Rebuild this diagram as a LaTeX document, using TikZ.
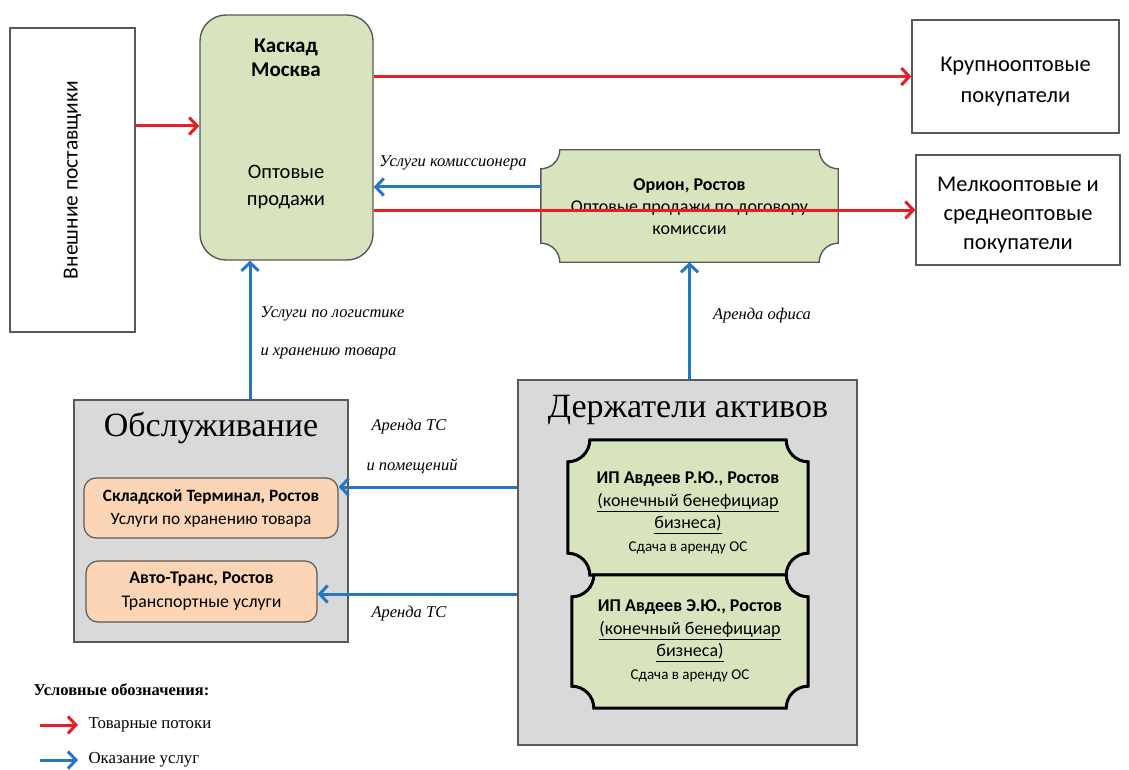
\documentclass[tikz,border=0pt]{standalone}
\usepackage{fontspec}
\setmainfont{Liberation Serif}
\newfontfamily\calf{Carlito}
\usetikzlibrary{arrows.meta,calc}
\definecolor{myred}{RGB}{232,30,37}
\definecolor{myblue}{RGB}{38,118,196}
\definecolor{mygreen}{RGB}{215,228,189}
\definecolor{mygray}{RGB}{217,217,217}
\definecolor{myorange}{RGB}{251,213,181}
\definecolor{edgegray}{RGB}{89,89,89}
% plaque outline (concave corners) around node #1, radius #2, style #3
\newcommand\plaqueoutline[3]{%
  \pgfmathsetmacro\kk{0.552*#2}%
  \draw[#3]
    ($(#1.north west)+(#2pt,0pt)$) -- ($(#1.north east)+(-#2pt,0pt)$)
    .. controls +(0pt,-\kk pt) and +(-\kk pt,0pt) .. ($(#1.north east)+(0pt,-#2pt)$)
    -- ($(#1.south east)+(0pt,#2pt)$)
    .. controls +(-\kk pt,0pt) and +(0pt,\kk pt) .. ($(#1.south east)+(-#2pt,0pt)$)
    -- ($(#1.south west)+(#2pt,0pt)$)
    .. controls +(0pt,\kk pt) and +(\kk pt,0pt) .. ($(#1.south west)+(0pt,#2pt)$)
    -- ($(#1.north west)+(0pt,-#2pt)$)
    .. controls +(\kk pt,0pt) and +(0pt,-\kk pt) .. cycle;}
\tikzset{
  flow/.style={draw=myred, line width=3pt, -{Straight Barb[length=8pt,width=17pt]}},
  serv/.style={draw=myblue, line width=3pt, -{Straight Barb[length=8pt,width=17pt]}},
  whitebox/.style={draw=edgegray, line width=1.2pt, fill=white, inner sep=0pt},
  greenround/.style={draw=edgegray, line width=1.4pt, fill=mygreen, rounded corners=26pt, inner sep=0pt},
  graybox/.style={draw=edgegray, line width=1.2pt, fill=mygray, inner sep=0pt},
  orangebox/.style={draw=edgegray, line width=1.2pt, fill=myorange, rounded corners=12pt, inner sep=0pt, align=center},
  plaquenode/.style={inner sep=0pt, align=center},
  lbl/.style={font=\itshape\fontsize{16.5}{18}\selectfont},
  title/.style={font=\fontsize{34}{38}\selectfont},
}
\begin{document}
\begin{tikzpicture}[x=1pt,y=-1pt]
\useasboundingbox[fill=white] (0,0) rectangle (1129,770);

% helper coordinates
\coordinate (c126) at (0,126);
\coordinate (c187) at (0,187);
\coordinate (c487) at (0,487);
\coordinate (c594) at (0,594);
\coordinate (x250) at (250,0);

% external suppliers
\node[whitebox, minimum width=125pt, minimum height=304pt] (ext) at (72.5,180) {};
\node[font=\calf\fontsize{21.5}{26}\selectfont, rotate=90] (extt) at (ext.center) {Внешние поставщики};

% Kaskad
\node[greenround, minimum width=173pt, minimum height=245pt] (kaskad) at (286.5,137.5) {};
\node[font=\calf\bfseries\fontsize{21}{24.5}\selectfont, align=center] (kaskadt) at (286,58) {Каскад\\Москва};
\node[font=\calf\fontsize{20.5}{27}\selectfont, align=center] (kaskadw) at (286,187) {Оптовые\\продажи};

% buyers
\node[whitebox, minimum width=207pt, minimum height=113pt] (krupno) at (1015.5,76.5) {};
\node[font=\calf\fontsize{22.5}{31}\selectfont, align=center] (krupnot) at (1015.5,82) {Крупнооптовые\\покупатели};
\node[whitebox, minimum width=204pt, minimum height=110pt] (melko) at (1018,210) {};
\node[font=\calf\fontsize{22.5}{29}\selectfont, align=center] (melkot) at (1018,215) {Мелкооптовые и\\среднеоптовые\\покупатели};

% Orion
\node[plaquenode, minimum width=297pt, minimum height=112pt] (orion) at (689.5,206) {};
\plaqueoutline{orion}{19}{draw=edgegray, line width=1.4pt, fill=mygreen}
\node[font=\calf\fontsize{18}{22}\selectfont, align=center] (oriont) at (689.5,207) {\textbf{Орион, Ростов}\\Оптовые продажи по договору\\комиссии};

% Obsluzhivanie
\node[graybox, minimum width=274pt, minimum height=242pt] (obsl) at (211,521) {};
\node[title] (obslt) at (211,428) {Обслуживание};
\node[orangebox, minimum width=254pt, minimum height=60pt, font=\calf\fontsize{17.3}{23}\selectfont] (sklad) at (211,508) {\textbf{Складской Терминал, Ростов}\\Услуги по хранению товара};
\node[orangebox, minimum width=231pt, minimum height=61pt, font=\calf\fontsize{17.8}{24}\selectfont] (avto) at (201.5,591.5) {\textbf{Авто-Транс, Ростов}\\Транспортные услуги};

% Derzhateli
\node[graybox, minimum width=339pt, minimum height=365pt] (derzh) at (687.5,562.5) {};
\node[title] (derzht) at (688,410) {Держатели активов};
\node[plaquenode, minimum width=240pt, minimum height=135pt] (avd1) at (688,507.5) {};
\plaqueoutline{avd1}{22}{draw=black, line width=3pt, fill=mygreen}
\node[plaquenode, minimum width=236pt, minimum height=133pt] (avd2) at (690,641.5) {};
\plaqueoutline{avd2}{22}{draw=black, line width=3pt, fill=mygreen}
\node[font=\calf\fontsize{18}{22.5}\selectfont, align=center] (avd1t) at (688,513) {\textbf{ИП Авдеев Р.Ю., Ростов}\\\underline{(конечный бенефициар}\\\underline{бизнеса)}\\{\fontsize{15}{21}\selectfont Сдача в аренду ОС}};
\node[font=\calf\fontsize{18}{22.5}\selectfont, align=center] (avd2t) at (690,641) {\textbf{ИП Авдеев Э.Ю., Ростов}\\\underline{(конечный бенефициар}\\\underline{бизнеса)}\\{\fontsize{15}{21}\selectfont Сдача в аренду ОС}};

% connectors
\draw[flow] (ext.east |- c126) -- (kaskad.west |- c126);
\draw[flow] (kaskad.east |- krupno.west) -- (krupno.west);
\draw[serv] (orion.west |- c187) -- (kaskad.east |- c187);
\draw[flow] (kaskad.east |- melko.west) -- (melko.west);
\draw[serv] (orion.south |- derzh.north) -- (orion.south);
\draw[serv] (obsl.north -| x250) -- (kaskad.south -| x250);
\draw[serv] (derzh.west |- c487) -- (sklad.east |- c487);
\draw[serv] (derzh.west |- c594) -- (avto.east |- c594);

% labels
\node[lbl] (l1) at (453,163) {Услуги комиссионера};
\node[lbl] (l2) at (762,316) {Аренда офиса};
\node[lbl, anchor=west] (l3) at (257,314) {Услуги по логистике};
\node[lbl, anchor=west] (l4) at (257,353) {и хранению товара};
\node[lbl, anchor=west] (l5) at (368,427) {Аренда ТС};
\node[lbl, anchor=west] (l6) at (363,466) {и помещений};
\node[lbl, anchor=west] (l7) at (368,614) {Аренда ТС};

% legend
\node[font=\bfseries\fontsize{16.5}{18}\selectfont, anchor=west] (legt) at (30,690) {Условные обозначения:};
\coordinate (lr1) at (40,725);
\coordinate (lr2) at (78,725);
\coordinate (lb1) at (40,760);
\coordinate (lb2) at (78,760);
\draw[flow] (lr1) -- (lr2);
\draw[serv] (lb1) -- (lb2);
\node[font=\fontsize{16.8}{18}\selectfont, anchor=west] (legr) at (85,725) {Товарные потоки};
\node[font=\fontsize{16.8}{18}\selectfont, anchor=west] (legb) at (85,760) {Оказание услуг};
\end{tikzpicture}
\end{document}
